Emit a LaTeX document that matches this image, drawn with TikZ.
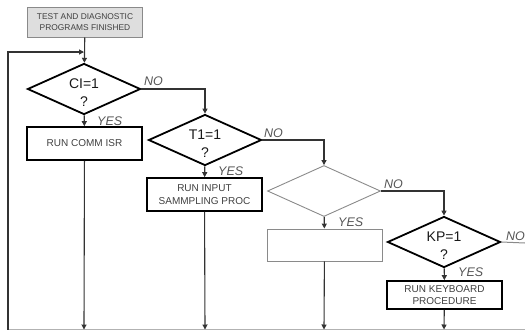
\documentclass[tikz,border=0pt]{standalone}
\usepackage{fontspec}
\setmainfont{Liberation Sans}
\usetikzlibrary{shapes.geometric,arrows.meta}
\definecolor{linec}{HTML}{333333}
\definecolor{txtc}{HTML}{404040}
\definecolor{lblc}{HTML}{555555}
\definecolor{thinc}{HTML}{8A8A8A}
\tikzset{
  procbox/.style={draw=black, line width=1.7pt, minimum width=115pt, minimum height=33pt, inner sep=1pt, align=center, text=txtc, font=\fontsize{10}{12.5}\selectfont},
  decbox/.style={draw=black, line width=1.8pt, diamond, aspect=2.2, minimum width=113pt, minimum height=51pt, inner sep=0pt},
  dectext/.style={inner sep=0pt, align=center, font=\fontsize{14}{17.5}\selectfont, text=black!90},
  conn/.style={draw=linec, line width=1.1pt, -{Triangle[length=5pt,width=5pt]}},
  lbl/.style={font=\fontsize{12.5}{14}\itshape, text=lblc, inner sep=0pt, anchor=west},
}
\begin{document}
\begin{tikzpicture}[x=1pt,y=-1pt]
\useasboundingbox (0,0) rectangle (525,330);
% nodes
\node[draw=thinc, fill=black!13, line width=1pt, minimum width=115pt, minimum height=30pt, inner sep=1pt, align=center, text=txtc, font=\fontsize{8.4}{10.5}\selectfont] (start) at (85,22) {TEST AND DIAGNOSTIC\\PROGRAMS FINISHED};
\node[decbox] (ci) at (84,89) {};
\node[dectext] (citxt) at (84,92.5) {CI=1\\?};
\node[procbox] (comm) at (84.5,143.5) {RUN COMM ISR};
\node[decbox] (t1) at (205,140) {};
\node[dectext] (t1txt) at (205,143.5) {T1=1\\?};
\node[procbox] (inp) at (204.5,194.5) {RUN INPUT\\SAMMPLING PROC};
\node[draw=thinc, line width=0.9pt, diamond, aspect=2.2, minimum width=113pt, minimum height=51pt, inner sep=0pt] (d3) at (324,191) {};
\node[draw=thinc, line width=0.9pt, minimum width=115pt, minimum height=32pt] (empty) at (324.5,245) {};
\node[decbox] (kp) at (444,242) {};
\node[dectext] (kptxt) at (444,245.5) {KP=1\\?};
\node[procbox, minimum height=28pt] (kbd) at (444.5,295) {RUN KEYBOARD\\PROCEDURE};
% coordinates
\coordinate (join) at (84,52);
\coordinate (loopT) at (8,52);
\coordinate (loopB) at (8,329.5);
\coordinate (b1) at (84,329.5);
\coordinate (b2) at (205,329.5);
\coordinate (b3) at (324,329.5);
\coordinate (b4) at (444,329.5);
\coordinate (bR) at (525,329.5);
\coordinate (kpR) at (525,243);
% bottom line
\draw[draw=black!30, line width=0.8pt] (loopB) -- (bR);
% connectors
\draw[conn] (start) -- (ci);
\draw[conn] (loopB) -- (loopT) -- (join);
\draw[conn] (ci) -- (comm);
\draw[conn] (ci.east) -| (t1.north);
\draw[conn] (t1) -- (inp);
\draw[conn] (t1.east) -| (d3.north);
\draw[conn] (d3) -- (empty);
\draw[conn] (d3.east) -| (kp.north);
\draw[conn] (kp) -- (kbd);
\draw[draw=thinc, line width=1pt] (kp.east) -- (kpR);
\draw[conn] (comm) -- (b1);
\draw[conn] (inp) -- (b2);
\draw[conn] (empty) -- (b3);
\draw[conn] (kbd) -- (b4);
% labels
\node[lbl] (no1) at (144,81) {NO};
\node[lbl] (yes1) at (97,121) {YES};
\node[lbl] (no2) at (264,133) {NO};
\node[lbl] (yes2) at (218,171) {YES};
\node[lbl] (no3) at (384,184) {NO};
\node[lbl] (yes3) at (338,222) {YES};
\node[lbl] (no4) at (506,236) {NO};
\node[lbl] (yes4) at (458,272) {YES};
\end{tikzpicture}
\end{document}
